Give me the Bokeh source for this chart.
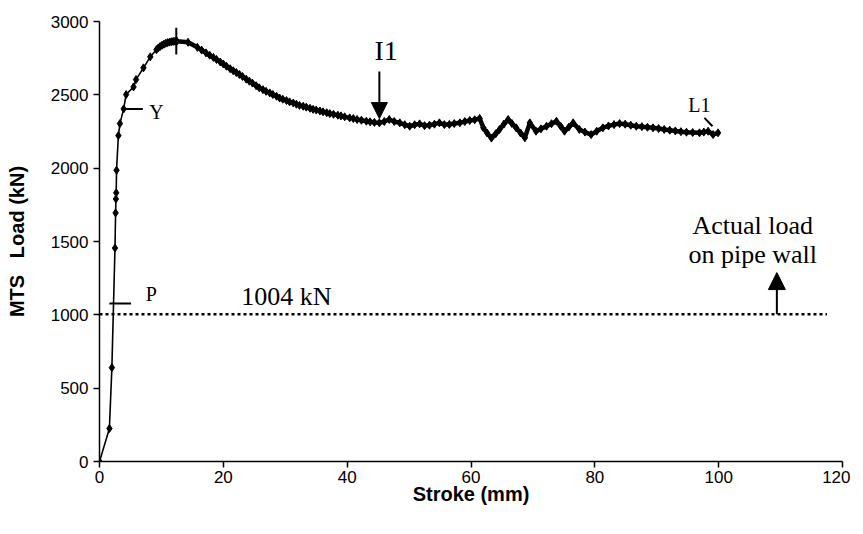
from bokeh.plotting import figure
from bokeh.models import Range1d, Label, Arrow, NormalHead, FixedTicker
from bokeh.embed import file_html
from bokeh.resources import INLINE

# ---- data: stroke (mm) vs MTS load (kN) ----
stroke = [0.0, 1.6, 2.0, 2.5, 2.6, 2.65, 2.7, 2.75, 3.05, 3.3, 3.9, 4.3, 5.5, 5.9, 7.1, 8.2,
          9.2, 9.5, 9.8, 10.1, 10.4, 10.7, 11.0, 11.3, 11.6, 11.9, 12.2, 12.5, 14.3,
          15.8, 16.5, 17.2, 17.8, 18.4, 18.9, 19.5, 20.0, 20.5, 21.1, 21.6, 22.1, 22.6,
          23.1, 23.7, 24.2, 24.7, 25.3, 25.8, 26.4, 26.9, 27.5, 28.0, 28.6, 29.1, 29.6,
          30.2, 30.7, 31.3, 31.8, 32.3, 32.9, 33.4, 34.0, 34.5, 35.0, 35.6, 36.1, 36.7,
          37.2, 37.8, 38.5, 39.0, 39.6, 40.4, 41.0, 41.6, 42.3, 43.1, 43.7, 44.4, 45.2,
          46.0, 46.8, 47.6, 48.5, 49.3, 50.1, 50.9, 51.7, 52.5, 53.3, 54.1, 54.9, 55.7,
          56.5, 57.3, 58.2, 59.0, 59.8, 60.6, 61.4, 62.0, 62.6, 63.3, 64.0, 64.6, 65.3,
          66.0, 66.6, 67.3, 68.0, 68.7, 69.5, 70.5, 71.3, 72.2, 73.0, 73.8, 74.5, 75.1,
          75.8, 76.5, 77.5, 78.4, 79.4, 80.3, 81.3, 82.2, 83.1, 84.0, 84.9, 85.8, 86.7,
          87.6, 88.5, 89.4, 90.3, 91.2, 92.1, 93.0, 93.9, 94.8, 95.8, 96.9, 97.6, 98.3,
          99.1, 99.9]
load = [0, 225, 640, 1455, 1695, 1790, 1832, 1986, 2222, 2304, 2404, 2502, 2554, 2604, 2684, 2759,
        2808, 2820, 2830, 2838, 2845, 2851, 2856, 2859, 2862, 2864, 2865, 2866, 2858,
        2824, 2805, 2786, 2770, 2755, 2741, 2724, 2710, 2695, 2678, 2664, 2652, 2639,
        2625, 2607, 2593, 2580, 2562, 2548, 2535, 2524, 2513, 2502, 2490, 2478, 2470,
        2461, 2452, 2444, 2436, 2428, 2422, 2416, 2408, 2401, 2396, 2390, 2384, 2378,
        2372, 2367, 2361, 2356, 2350, 2343, 2338, 2332, 2327, 2320, 2316, 2312, 2309,
        2318, 2332, 2318, 2309, 2296, 2286, 2296, 2302, 2290, 2293, 2300, 2309, 2297,
        2298, 2304, 2309, 2318, 2325, 2330, 2339, 2275, 2240, 2205, 2235, 2263, 2300,
        2332, 2305, 2275, 2240, 2207, 2309, 2252, 2268, 2286, 2303, 2320, 2285, 2252,
        2280, 2309, 2264, 2246, 2229, 2252, 2275, 2288, 2297, 2304, 2300, 2293, 2286,
        2283, 2279, 2275, 2270, 2264, 2259, 2254, 2249, 2245, 2243, 2241, 2246, 2252,
        2229, 2241]
dense_from = 16  # index where the recorded points become densely packed

x_ticks = [0, 20, 40, 60, 80, 100, 120]
y_ticks = [0, 500, 1000, 1500, 2000, 2500, 3000]
actual_load = 1004

SERIF = "Liberation Serif"
SANS = "Liberation Sans"

p = figure(frame_width=743, frame_height=440, x_range=Range1d(0, 120), y_range=Range1d(0, 3000),
           output_backend="svg", toolbar_location=None,
           min_border_left=99, min_border_right=8, min_border_top=21, min_border_bottom=50)
p.outline_line_color = None
p.xgrid.grid_line_color = None
p.ygrid.grid_line_color = None
p.background_fill_color = "white"

for ax in (p.xaxis[0], p.yaxis[0]):
    ax.axis_line_color = "black"
    ax.axis_line_width = 1.5
    ax.major_tick_line_color = "black"
    ax.major_tick_line_width = 1.5
    ax.major_tick_out = 6
    ax.major_tick_in = 0
    ax.minor_tick_line_color = None
    ax.major_label_text_font = SANS
    ax.major_label_text_font_size = "17px"
    ax.major_label_text_color = "black"
    ax.axis_label_text_font = SANS
    ax.axis_label_text_font_style = "bold"
    ax.axis_label_text_font_size = "20px"
    ax.axis_label_text_color = "black"

p.xaxis.ticker = FixedTicker(ticks=x_ticks)
p.yaxis.ticker = FixedTicker(ticks=y_ticks)
p.xaxis.axis_label = "Stroke (mm)"
p.yaxis.axis_label = "MTS\u00a0\u00a0\u00a0Load (kN)"
p.xaxis.major_label_standoff = 3
p.xaxis.axis_label_standoff = -3
p.yaxis.major_label_standoff = 5
p.yaxis.axis_label_standoff = 20

# reference line: actual load on pipe wall
p.line([0, 117.5], [actual_load, actual_load], line_color="black", line_width=2.5, line_dash="3 3")

# measured curve
p.line(stroke, load, line_color="black", line_width=1.6)
p.line(stroke[dense_from:], load[dense_from:], line_color="black", line_width=4.5, line_join="round")
p.scatter(stroke, load, marker="diamond", size=8, color="black")

# point markers (ticks)
p.segment(x0=[12.4, 3.9, 1.6, 97.7], y0=[2775, 2404, 1077, 2343],
          x1=[12.4, 7.0, 5.1, 99.0], y1=[2957, 2404, 1077, 2286],
          line_color="black", line_width=2)

def lab(x, y, t, size, font=SERIF, align="center", baseline="middle"):
    p.add_layout(Label(x=x, y=y, text=t, text_font=font, text_font_size=size,
                       text_align=align, text_baseline=baseline, text_color="black"))

lab(12.6, 3068, "H1", "20px")
lab(9.2, 2381, "Y", "20px")
lab(8.35, 1139, "P", "20px")
lab(30.2, 1125, "1004 kN", "26px")
lab(46.3, 2802, "I1", "28px")
lab(96.9, 2434, "L1", "20px")
lab(105.5, 1609, "Actual load", "26px", baseline="alphabetic")
lab(105.5, 1411, "on pipe wall", "26px", baseline="alphabetic")

p.add_layout(Arrow(end=NormalHead(size=16, fill_color="black", line_color="black"),
                   x_start=45.2, y_start=2659, x_end=45.2, y_end=2338,
                   line_color="black", line_width=2))
p.add_layout(Arrow(end=NormalHead(size=17, fill_color="black", line_color="black"),
                   x_start=109.4, y_start=actual_load, x_end=109.4, y_end=1288,
                   line_color="black", line_width=2))

open("out.html", "w").write(file_html(p, INLINE))
